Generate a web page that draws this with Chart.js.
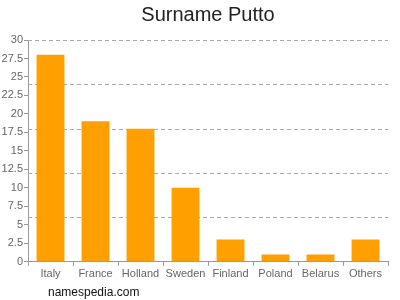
<!DOCTYPE html>
<html>
<head>
<meta charset="utf-8">
<script src="https://cdn.jsdelivr.net/npm/chart.js@4"></script>
<style>
  html, body { margin: 0; padding: 0; background: #fff; }
  #wrap { position: relative; width: 400px; height: 300px; }
  #mark { position: absolute; left: 48px; top: 285px; font: 12px "Liberation Sans", Arial, sans-serif; color: #111; }
</style>
</head>
<body>
<div id="wrap">
  <canvas id="chart" width="400" height="300"></canvas>
  <div id="mark">namespedia.com</div>
</div>
<script>
// data
var countries = ["Italy", "France", "Holland", "Sweden", "Finland", "Poland", "Belarus", "Others"];
var counts = [28, 19, 18, 10, 3, 1, 1, 3];
var yMax = 30;
var tickStep = 2.5;
var gridStep = 6;
var titleText = "Surname Putto";

var grey = "#666";

new Chart(document.getElementById("chart"), {
    type: "bar",
    data: {
        labels: countries,
        datasets: [{
            data: counts,
            backgroundColor: "#ffa000",
            barPercentage: 0.62,
            categoryPercentage: 1
        }]
    },
    options: {
        responsive: false,
        animation: false,
        layout: { padding: { left: 0, right: 12, top: 40, bottom: 17 } },
        plugins: {
            legend: { display: false },
            tooltip: { enabled: false },
            title: { display: false }
        },
        scales: {
            x: {
                offset: true,
                grid: { drawOnChartArea: false, tickLength: 4, color: "#999" },
                border: { color: "#999" },
                ticks: { color: grey, font: { family: "Liberation Sans", size: 11 }, padding: 2, maxRotation: 0 }
            },
            y: {
                min: 0,
                max: yMax,
                grid: { drawOnChartArea: false, tickLength: 4, color: "#999" },
                border: { color: "#999" },
                ticks: { stepSize: tickStep, color: grey, font: { family: "Liberation Sans", size: 11 }, padding: 1 },
                afterFit: function (scale) { scale.width = 28; }
            }
        }
    },
    plugins: [{
        id: "dashGrid",
        beforeDatasetsDraw: function (chart) {
            // dashed horizontal guides at every gridStep
            var ctx = chart.ctx, area = chart.chartArea, s = chart.scales.y;
            ctx.save();
            ctx.strokeStyle = "#aaa";
            ctx.lineWidth = 1;
            ctx.setLineDash([4, 3]);
            for (var v = gridStep; v <= yMax; v += gridStep) {
                var y = Math.round(s.getPixelForValue(v)) + 0.5;
                ctx.beginPath();
                ctx.moveTo(area.left, y);
                ctx.lineTo(area.right, y);
                ctx.stroke();
            }
            ctx.restore();
        },
        afterDraw: function (chart) {
            // title centred over the plot area, not the whole canvas
            var ctx = chart.ctx, area = chart.chartArea;
            ctx.save();
            ctx.fillStyle = "#222";
            ctx.font = "20px 'Liberation Sans'";
            ctx.textAlign = "center";
            ctx.textBaseline = "middle";
            ctx.fillText(titleText, (area.left + area.right) / 2, 15);
            ctx.restore();
        }
    }]
});
</script>
</body>
</html>
